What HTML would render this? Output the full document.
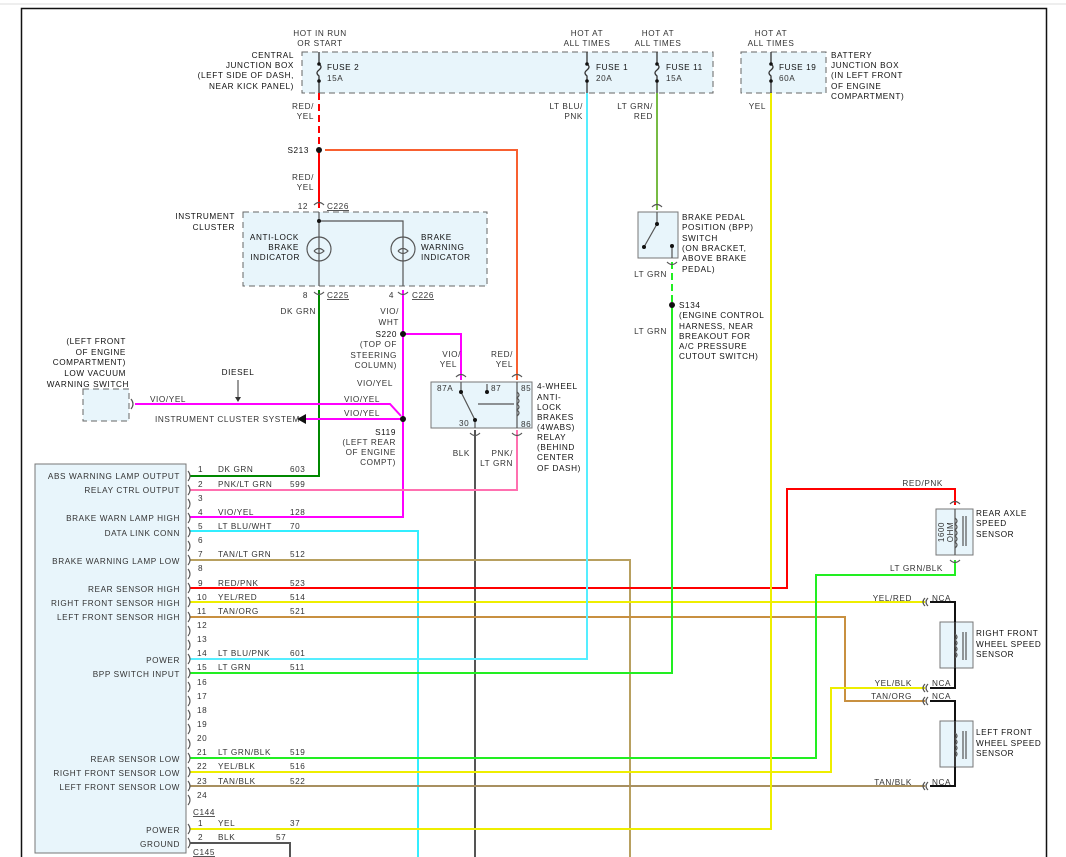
<!DOCTYPE html>
<html><head><meta charset="utf-8"><style>
html,body{margin:0;padding:0;background:#fff}
svg{display:block}
text{font-family:"Liberation Sans",sans-serif;font-size:8.2px;fill:#333;letter-spacing:0.6px}
.r{text-anchor:end}
.m{text-anchor:middle}
.b{fill:#111}
</style></head><body>
<svg width="1066" height="857" viewBox="0 0 1066 857" xmlns="http://www.w3.org/2000/svg">
<line x1="0" y1="4" x2="1066" y2="4" stroke="#ddd" stroke-width="1"/>
<path d="M21.5 857 V8.5 H1046.5 V857" fill="none" stroke="#111" stroke-width="1.5"/>

<!-- boxes -->
<rect x="302" y="52" width="411" height="41" fill="#e8f5fb" stroke="#666" stroke-dasharray="6,4"/>
<rect x="741" y="52" width="85" height="41" fill="#e8f5fb" stroke="#666" stroke-dasharray="6,4"/>
<rect x="243" y="212" width="244" height="74" fill="#e8f5fb" stroke="#666" stroke-dasharray="6,4"/>
<rect x="83" y="389" width="46" height="32" fill="#e8f5fb" stroke="#666" stroke-dasharray="6,4"/>
<rect x="638" y="212" width="40" height="46" fill="#e8f5fb" stroke="#777"/>
<rect x="431" y="382" width="101" height="46" fill="#e8f5fb" stroke="#777"/>
<rect x="35" y="464" width="151" height="389" fill="#e8f5fb" stroke="#777"/>
<rect x="936" y="509" width="37" height="46" fill="#e8f5fb" stroke="#777"/>
<rect x="940" y="622" width="33" height="46" fill="#e8f5fb" stroke="#777"/>
<rect x="940" y="721" width="33" height="46" fill="#e8f5fb" stroke="#777"/>

<!-- fuses -->
<g stroke="#333" stroke-width="1.3" fill="none">
<path d="M319 52V64 q4 3 0 6 q-4 3 0 6 V93"/>
<path d="M587 52V64 q4 3 0 6 q-4 3 0 6 V93"/>
<path d="M657 52V64 q4 3 0 6 q-4 3 0 6 V93"/>
<path d="M771 52V64 q4 3 0 6 q-4 3 0 6 V93"/>
</g>
<g fill="#111"><circle cx="319" cy="64" r="1.8"/><circle cx="319" cy="81" r="1.8"/><circle cx="587" cy="64" r="1.8"/><circle cx="587" cy="81" r="1.8"/><circle cx="657" cy="64" r="1.8"/><circle cx="657" cy="81" r="1.8"/><circle cx="771" cy="64" r="1.8"/><circle cx="771" cy="81" r="1.8"/></g>

<!-- wires -->
<g fill="none" stroke-width="2">
<path d="M319 93V150" stroke="#f00" stroke-dasharray="7,4"/>
<path d="M319 150V208" stroke="#f00"/>
<path d="M325 150H517V380" stroke="#f86030"/>
<path d="M319 290V476H190" stroke="#080"/>
<path d="M403 290V517H190" stroke="#f0f"/>
<path d="M403 334H461V380" stroke="#f0f"/>
<path d="M135 404H390L401 416" stroke="#f0f"/>
<path d="M403 419H305" stroke="#f0f"/>
<path d="M475 430V857" stroke="#555"/>
<path d="M517 430V490H190" stroke="#ff70b0"/>
<path d="M190 531H418V857" stroke="#3ef"/>
<path d="M190 560H630V857" stroke="#b8a060"/>
<path d="M190 588H787V489H955V505" stroke="#f00"/>
<path d="M190 602H925" stroke="#ee0"/>
<path d="M190 617H845V701H925" stroke="#c89040"/>
<path d="M190 659H587V93" stroke="#5ef"/>
<path d="M190 673H672V305" stroke="#2e2"/>
<path d="M672 262V305" stroke="#2e2" stroke-dasharray="7,4"/>
<path d="M657 93V210" stroke="#7b4"/>
<path d="M190 758H816V575H955V560" stroke="#2e2"/>
<path d="M190 772H831V688H925" stroke="#ee0"/>
<path d="M190 786H925" stroke="#a89060"/>
<path d="M190 829H771V93" stroke="#ee0"/>
<path d="M190 843H290V857" stroke="#555"/>
</g>
<g fill="none" stroke="#111" stroke-width="2">
<path d="M930 602H955V688H930"/>
<path d="M930 701H955V786H930"/>
</g>

<!-- splices -->
<g fill="#111"><circle cx="319" cy="150" r="3"/><circle cx="403" cy="334" r="3"/><circle cx="403" cy="419" r="3"/><circle cx="672" cy="305" r="3"/></g>
<path d="M297 419L306 414V424Z" fill="#111"/>
<path d="M238 380V400" stroke="#333"/><path d="M235 397L238 402L241 397" fill="#333"/>

<!-- cluster internals -->
<g stroke="#555" fill="none" stroke-width="1.2">
<path d="M319 212V286M319 221H403V286"/>
<circle cx="319" cy="249" r="12"/><circle cx="403" cy="249" r="12"/>
<path d="M314 251q5 -5 10 0q-5 5-10 0"/><path d="M398 251q5 -5 10 0q-5 5-10 0"/>
<path d="M314 205q5-5 10 0M314 292q5 5 10 0M398 292q5 5 10 0"/>
</g>
<circle cx="319" cy="221" r="2" fill="#111"/>
<!-- relay internals -->
<g stroke="#555" fill="none" stroke-width="1.2">
<path d="M461 382V392L475 420V428M487 392V384M517 382V428M478 404H514"/>
<path d="M517 392q4 3 0 6q4 3 0 6q4 3 0 6q4 3 0 6" />
<path d="M456 377q5-5 10 0M512 377q5-5 10 0M470 433q5 5 10 0M512 433q5 5 10 0"/>
</g>
<g fill="#111"><circle cx="461" cy="392" r="2"/><circle cx="487" cy="392" r="2"/><circle cx="475" cy="420" r="2"/></g>
<!-- BPP internals -->
<g stroke="#555" fill="none" stroke-width="1.2">
<path d="M657 212V224L644 247M672 247V258M652 207q5-5 10 0M667 262q5 5 10 0"/>
</g>
<g fill="#111"><circle cx="657" cy="224" r="2"/><circle cx="644" cy="247" r="2"/><circle cx="672" cy="246" r="2"/></g>
<!-- sensors internals -->
<g stroke="#555" fill="none" stroke-width="1.2">
<path d="M955 509V555M950 504q5-5 10 0M950 560q5 5 10 0"/>
<path d="M955 518q4 3 0 6q4 3 0 6q4 3 0 6q4 3 0 6q4 3 0 6M963 516V546M966 516V546"/>
<path d="M955 622V668M955 634q4 3 0 6q4 3 0 6q4 3 0 6q4 3 0 6M963 632V660M966 632V660"/>
<path d="M955 721V767M955 733q4 3 0 6q4 3 0 6q4 3 0 6q4 3 0 6M963 731V759M966 731V759"/>
<path d="M928 598q-4 4 0 8M925 598q-4 4 0 8M928 684q-4 4 0 8M925 684q-4 4 0 8M928 697q-4 4 0 8M925 697q-4 4 0 8M928 782q-4 4 0 8M925 782q-4 4 0 8"/>
<path d="M131 399q4 5 0 10"/>
</g>
<text x="944" y="532" class="m" transform="rotate(-90 944 532)" style="font-size:8px">1600</text>
<text x="953" y="532" class="m" transform="rotate(-90 953 532)" style="font-size:8px">OHM</text>
<!-- module pin connectors -->
<g stroke="#555" fill="none" stroke-width="1.1" id="pins">
<path d="M188 471q4 5 0 10M188 485q4 5 0 10M188 499q4 5 0 10M188 513q4 5 0 10M188 527q4 5 0 10M188 541q4 5 0 10M188 555q4 5 0 10M188 569q4 5 0 10M188 583q4 5 0 10M188 597q4 5 0 10M188 612q4 5 0 10M188 626q4 5 0 10M188 640q4 5 0 10M188 654q4 5 0 10M188 668q4 5 0 10M188 682q4 5 0 10M188 696q4 5 0 10M188 710q4 5 0 10M188 724q4 5 0 10M188 739q4 5 0 10M188 753q4 5 0 10M188 767q4 5 0 10M188 781q4 5 0 10M188 795q4 5 0 10M188 824q4 5 0 10M188 838q4 5 0 10"/>
</g>

<!-- labels -->
<text x="320" y="36" class="m">HOT IN RUN</text><text x="320" y="46" class="m">OR START</text>
<text x="294" y="58" class="r b">CENTRAL</text><text x="294" y="68" class="r b">JUNCTION BOX</text><text x="294" y="78" class="r b">(LEFT SIDE OF DASH,</text><text x="294" y="89" class="r b">NEAR KICK PANEL)</text>
<text x="327" y="70" class="b">FUSE 2</text><text x="327" y="81">15A</text>
<text x="587" y="36" class="m">HOT AT</text><text x="587" y="46" class="m">ALL TIMES</text>
<text x="658" y="36" class="m">HOT AT</text><text x="658" y="46" class="m">ALL TIMES</text>
<text x="771" y="36" class="m">HOT AT</text><text x="771" y="46" class="m">ALL TIMES</text>
<text x="596" y="70" class="b">FUSE 1</text><text x="596" y="81">20A</text>
<text x="666" y="70" class="b">FUSE 11</text><text x="666" y="81">15A</text>
<text x="779" y="70" class="b">FUSE 19</text><text x="779" y="81">60A</text>
<text x="831" y="58" class="b">BATTERY</text><text x="831" y="68" class="b">JUNCTION BOX</text><text x="831" y="78" class="b">(IN LEFT FRONT</text><text x="831" y="89" class="b">OF ENGINE</text><text x="831" y="99" class="b">COMPARTMENT)</text>
<text x="314" y="109" class="r">RED/</text><text x="314" y="119" class="r">YEL</text>
<text x="309" y="153" class="r b">S213</text>
<text x="314" y="180" class="r">RED/</text><text x="314" y="190" class="r">YEL</text>
<text x="308" y="209" class="r">12</text><text x="327" y="209" style="text-decoration:underline">C226</text>
<text x="235" y="219" class="r b">INSTRUMENT</text><text x="235" y="230" class="r b">CLUSTER</text>
<text x="299" y="240" class="r b">ANTI-LOCK</text><text x="299" y="250" class="r b">BRAKE</text><text x="300" y="260" class="r b">INDICATOR</text>
<text x="421" y="240" class="b">BRAKE</text><text x="421" y="250" class="b">WARNING</text><text x="421" y="260" class="b">INDICATOR</text>
<text x="308" y="298" class="r">8</text><text x="327" y="298" style="text-decoration:underline">C225</text>
<text x="394" y="298" class="r">4</text><text x="412" y="298" style="text-decoration:underline">C226</text>
<text x="316" y="314" class="r">DK GRN</text>
<text x="399" y="314" class="r">VIO/</text><text x="399" y="325" class="r">WHT</text>
<text x="397" y="337" class="r b">S220</text>
<text x="397" y="347" class="r">(TOP OF</text><text x="397" y="358" class="r">STEERING</text><text x="397" y="368" class="r">COLUMN)</text>
<text x="393" y="386" class="r">VIO/YEL</text>
<text x="380" y="402" class="r">VIO/YEL</text><text x="380" y="416" class="r">VIO/YEL</text>
<text x="155" y="422">INSTRUMENT CLUSTER SYSTEM</text>
<text x="150" y="402">VIO/YEL</text>
<text x="238" y="375" class="m b">DIESEL</text>
<text x="126" y="344" class="r b">(LEFT FRONT</text><text x="126" y="355" class="r b">OF ENGINE</text><text x="126" y="365" class="r b">COMPARTMENT)</text><text x="126" y="376" class="r b">LOW VACUUM</text><text x="129" y="387" class="r b">WARNING SWITCH</text>
<text x="396" y="435" class="r b">S119</text>
<text x="396" y="445" class="r">(LEFT REAR</text><text x="396" y="455" class="r">OF ENGINE</text><text x="396" y="465" class="r">COMPT)</text>
<text x="461" y="357" class="r">VIO/</text><text x="457" y="367" class="r">YEL</text>
<text x="513" y="357" class="r">RED/</text><text x="513" y="367" class="r">YEL</text>
<text x="437" y="391">87A</text><text x="491" y="391">87</text><text x="521" y="391">85</text>
<text x="459" y="426">30</text><text x="521" y="427">86</text>
<text x="537" y="389" class="b">4-WHEEL</text><text x="537" y="400" class="b">ANTI-</text><text x="537" y="410" class="b">LOCK</text><text x="537" y="420" class="b">BRAKES</text><text x="537" y="430" class="b">(4WABS)</text><text x="537" y="440" class="b">RELAY</text><text x="537" y="450" class="b">(BEHIND</text><text x="537" y="460" class="b">CENTER</text><text x="537" y="471" class="b">OF DASH)</text>
<text x="470" y="456" class="r">BLK</text>
<text x="513" y="456" class="r">PNK/</text><text x="513" y="466" class="r">LT GRN</text>
<text x="583" y="109" class="r">LT BLU/</text><text x="583" y="119" class="r">PNK</text>
<text x="653" y="109" class="r">LT GRN/</text><text x="653" y="119" class="r">RED</text>
<text x="766" y="109" class="r">YEL</text>
<text x="682" y="220" class="b">BRAKE PEDAL</text><text x="682" y="230" class="b">POSITION (BPP)</text><text x="682" y="241" class="b">SWITCH</text><text x="682" y="251" class="b">(ON BRACKET,</text><text x="682" y="261" class="b">ABOVE BRAKE</text><text x="682" y="272" class="b">PEDAL)</text>
<text x="667" y="277" class="r">LT GRN</text>
<text x="679" y="308" class="b">S134</text>
<text x="679" y="318" class="b">(ENGINE CONTROL</text><text x="679" y="329" class="b">HARNESS, NEAR</text><text x="679" y="339" class="b">BREAKOUT FOR</text><text x="679" y="349" class="b">A/C PRESSURE</text><text x="679" y="359" class="b">CUTOUT SWITCH)</text>
<text x="667" y="334" class="r">LT GRN</text>

<!-- module labels -->
<text x="180" y="479" class="r">ABS WARNING LAMP OUTPUT</text>
<text x="180" y="493" class="r">RELAY CTRL OUTPUT</text>
<text x="180" y="521" class="r">BRAKE WARN LAMP HIGH</text>
<text x="180" y="536" class="r">DATA LINK CONN</text>
<text x="180" y="564" class="r">BRAKE WARNING LAMP LOW</text>
<text x="180" y="592" class="r">REAR SENSOR HIGH</text>
<text x="180" y="606" class="r">RIGHT FRONT SENSOR HIGH</text>
<text x="180" y="620" class="r">LEFT FRONT SENSOR HIGH</text>
<text x="180" y="663" class="r">POWER</text>
<text x="180" y="677" class="r">BPP SWITCH INPUT</text>
<text x="180" y="762" class="r">REAR SENSOR LOW</text>
<text x="180" y="776" class="r">RIGHT FRONT SENSOR LOW</text>
<text x="180" y="790" class="r">LEFT FRONT SENSOR LOW</text>
<text x="180" y="833" class="r">POWER</text>
<text x="180" y="847" class="r">GROUND</text>
<g>
<text x="198" y="472">1</text><text x="218" y="472">DK GRN</text><text x="290" y="472">603</text>
<text x="198" y="487">2</text><text x="218" y="487">PNK/LT GRN</text><text x="290" y="487">599</text>
<text x="198" y="501">3</text>
<text x="198" y="515">4</text><text x="218" y="515">VIO/YEL</text><text x="290" y="515">128</text>
<text x="198" y="529">5</text><text x="218" y="529">LT BLU/WHT</text><text x="290" y="529">70</text>
<text x="198" y="543">6</text>
<text x="198" y="557">7</text><text x="218" y="557">TAN/LT GRN</text><text x="290" y="557">512</text>
<text x="198" y="571">8</text>
<text x="198" y="586">9</text><text x="218" y="586">RED/PNK</text><text x="290" y="586">523</text>
<text x="197" y="600">10</text><text x="218" y="600">YEL/RED</text><text x="290" y="600">514</text>
<text x="197" y="614">11</text><text x="218" y="614">TAN/ORG</text><text x="290" y="614">521</text>
<text x="197" y="628">12</text>
<text x="197" y="642">13</text>
<text x="197" y="656">14</text><text x="218" y="656">LT BLU/PNK</text><text x="290" y="656">601</text>
<text x="197" y="670">15</text><text x="218" y="670">LT GRN</text><text x="290" y="670">511</text>
<text x="197" y="685">16</text><text x="197" y="699">17</text><text x="197" y="713">18</text><text x="197" y="727">19</text><text x="197" y="741">20</text>
<text x="197" y="755">21</text><text x="218" y="755">LT GRN/BLK</text><text x="290" y="755">519</text>
<text x="197" y="769">22</text><text x="218" y="769">YEL/BLK</text><text x="290" y="769">516</text>
<text x="197" y="784">23</text><text x="218" y="784">TAN/BLK</text><text x="290" y="784">522</text>
<text x="197" y="798">24</text>
<text x="193" y="815" style="text-decoration:underline">C144</text>
<text x="198" y="826">1</text><text x="218" y="826">YEL</text><text x="290" y="826">37</text>
<text x="198" y="840">2</text><text x="218" y="840">BLK</text><text x="276" y="840">57</text>
<text x="193" y="855" style="text-decoration:underline">C145</text>
</g>
<!-- right labels -->
<text x="943" y="486" class="r">RED/PNK</text>
<text x="943" y="571" class="r">LT GRN/BLK</text>
<text x="912" y="601" class="r">YEL/RED</text><text x="932" y="601">NCA</text>
<text x="912" y="686" class="r">YEL/BLK</text><text x="932" y="686">NCA</text>
<text x="912" y="699" class="r">TAN/ORG</text><text x="932" y="699">NCA</text>
<text x="912" y="785" class="r">TAN/BLK</text><text x="932" y="785">NCA</text>
<text x="976" y="516" class="b">REAR AXLE</text><text x="976" y="526" class="b">SPEED</text><text x="976" y="537" class="b">SENSOR</text>
<text x="976" y="636" class="b">RIGHT FRONT</text><text x="976" y="647" class="b">WHEEL SPEED</text><text x="976" y="657" class="b">SENSOR</text>
<text x="976" y="735" class="b">LEFT FRONT</text><text x="976" y="746" class="b">WHEEL SPEED</text><text x="976" y="756" class="b">SENSOR</text>
</svg>
</body></html>
